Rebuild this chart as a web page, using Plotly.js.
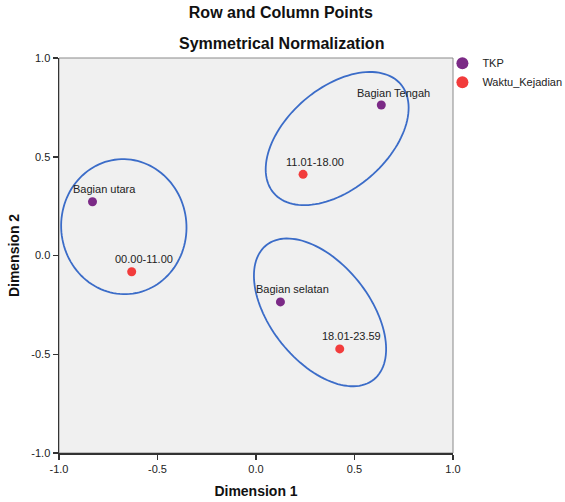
<!DOCTYPE html>
<html>
<head>
<meta charset="utf-8">
<script src="https://cdn.plot.ly/plotly-3.0.1.min.js"></script>
<style>html,body{margin:0;padding:0;background:#fff;}#chart{width:565px;height:502px;}</style>
</head>
<body>
<div id="chart"></div>
<script>
// Row points (TKP)
var rowLabels = ['Bagian utara', 'Bagian Tengah', 'Bagian selatan'];
var rowDim1 = [-0.830, 0.636, 0.124];
var rowDim2 = [0.272, 0.762, -0.235];
// Column points (Waktu_Kejadian)
var colLabels = ['00.00-11.00', '11.01-18.00', '18.01-23.59'];
var colDim1 = [-0.631, 0.239, 0.425];
var colDim2 = [-0.082, 0.411, -0.473];
var tickVals = [-1.0, -0.5, 0.0, 0.5, 1.0];
var tickText = ['-1.0', '-0.5', '0.0', '0.5', '1.0'];

var FONT = 'Liberation Sans, Arial, sans-serif';

// grouping ellipses (annotation): center x, center y, semi-axis a, semi-axis b, angle (deg)
var ellipses = [
  {cx: -0.671, cy: 0.146, a: 0.342, b: 0.318, ang: 95},
  {cx: 0.412, cy: 0.592, a: 0.424, b: 0.256, ang: 40.5},
  {cx: 0.325, cy: -0.288, a: 0.436, b: 0.250, ang: -51.2}
];
function ellipsePath(e) {
  var n = 120, t = e.ang * Math.PI / 180, s = '';
  for (var i = 0; i <= n; i++) {
    var p = 2 * Math.PI * i / n;
    var x = e.cx + e.a * Math.cos(p) * Math.cos(t) - e.b * Math.sin(p) * Math.sin(t);
    var y = e.cy + e.a * Math.cos(p) * Math.sin(t) + e.b * Math.sin(p) * Math.cos(t);
    s += (i === 0 ? 'M' : 'L') + x.toFixed(4) + ',' + y.toFixed(4);
  }
  return s + 'Z';
}

var traces = [
  {x: rowDim1, y: rowDim2, text: rowLabels, name: 'TKP', type: 'scatter', mode: 'markers',
   marker: {color: '#7b2a86', size: 9}, hoverinfo: 'text'},
  {x: colDim1, y: colDim2, text: colLabels, name: 'Waktu_Kejadian', type: 'scatter', mode: 'markers',
   marker: {color: '#f23c3c', size: 9}, hoverinfo: 'text'}
];

var annotations = [];
function addLabels(xs, ys, ls) {
  for (var i = 0; i < xs.length; i++) {
    annotations.push({x: xs[i], y: ys[i], text: ls[i], showarrow: false, xref: 'x', yref: 'y',
      xshift: 12, yshift: 12.5, font: {family: FONT, size: 11, color: '#222'}});
  }
}
addLabels(rowDim1, rowDim2, rowLabels);
addLabels(colDim1, colDim2, colLabels);
annotations.push({text: '<b>Symmetrical Normalization</b>', xref: 'paper', yref: 'paper',
  x: 0.5635, y: 1.0372, xanchor: 'center', yanchor: 'middle', showarrow: false,
  font: {family: FONT, size: 16, color: '#111'}});

var shapes = [{type: 'rect', xref: 'paper', yref: 'paper', x0: 0, x1: 1, y0: 0, y1: 1,
  line: {color: '#8a8a8a', width: 1}, layer: 'below'}];
ellipses.forEach(function (e) {
  shapes.push({type: 'path', xref: 'x', yref: 'y', path: ellipsePath(e),
    line: {color: '#3b6cc8', width: 1.8}, fillcolor: 'rgba(0,0,0,0)', layer: 'above'});
});

var axisCommon = {
  range: [-1, 1], tickmode: 'array', tickvals: tickVals, ticktext: tickText,
  showgrid: false, zeroline: false, showline: true, linecolor: '#333', linewidth: 1.5,
  ticks: 'outside', ticklen: 5, tickcolor: '#333', tickwidth: 1.5,
  tickfont: {family: FONT, size: 11, color: '#222'}, fixedrange: true, automargin: false
};

var layout = {
  width: 565, height: 502,
  margin: {l: 59, r: 112, t: 58, b: 49, pad: 0, autoexpand: false},
  paper_bgcolor: '#ffffff', plot_bgcolor: '#f0f0f0',
  font: {family: FONT, color: '#222'},
  title: {text: '<b>Row and Column Points</b>', xref: 'container', yref: 'container',
    x: 0.497, y: 0.9747, xanchor: 'center', yanchor: 'middle',
    font: {family: FONT, size: 16, color: '#111'}},
  xaxis: Object.assign({}, axisCommon, {title: {text: '<b>Dimension 1</b>', standoff: 12,
    font: {family: FONT, size: 14, color: '#111'}}}),
  yaxis: Object.assign({}, axisCommon, {title: {text: '<b>Dimension 2</b>', standoff: 8,
    font: {family: FONT, size: 14, color: '#111'}}}),
  showlegend: true,
  legend: {xref: 'container', yref: 'container', x: 0.783, y: 0.903, xanchor: 'left', yanchor: 'top',
    bgcolor: 'rgba(0,0,0,0)',
    font: {family: FONT, size: 11, color: '#222'}, itemsizing: 'constant', tracegroupgap: 0},
  annotations: annotations, shapes: shapes, hovermode: 'closest'
};

Plotly.newPlot('chart', traces, layout, {displayModeBar: false, staticPlot: true});
</script>
</body>
</html>
